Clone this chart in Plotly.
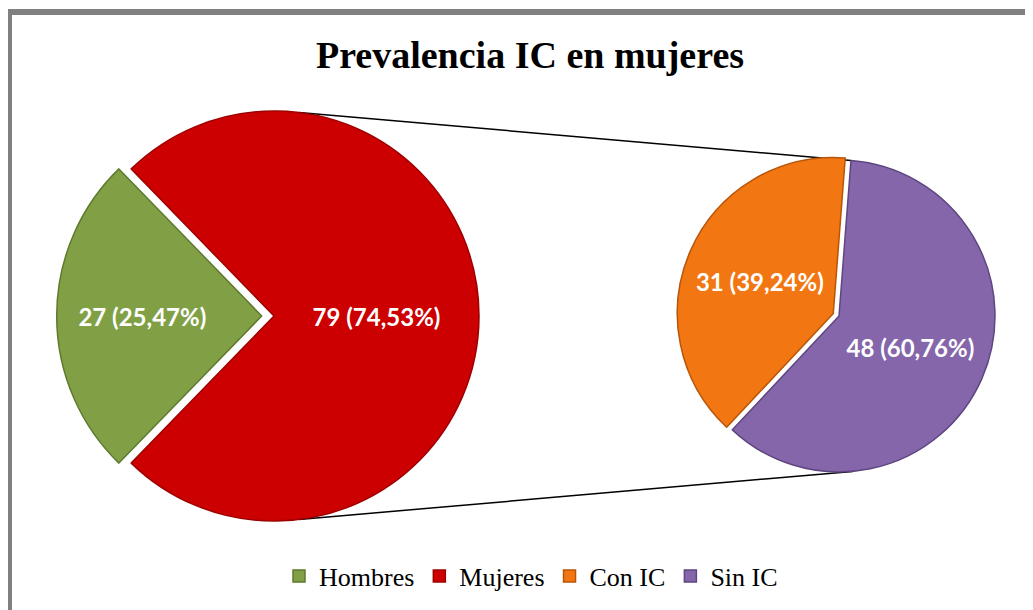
import numpy as np
import plotly.graph_objects as go

W, H = 1033, 610
OFF = 8  # page body margin of the browser, figure starts at (8, 8)

# data
sexo_labels = ['Hombres', 'Mujeres']
sexo_values = [27, 79]
ic_labels = ['Con IC', 'Sin IC']
ic_values = [31, 48]

sexo_colors = ['#81A046', '#CC0000']
ic_colors = ['#F27612', '#8566AB']


def px_x(x):
    return (x - OFF) / W


def px_y(y):
    return 1 - (y - OFF) / H


def pie_domain(cx, cy, r, pull):
    half = r * (1 + pull)
    return dict(x=[px_x(cx - half), px_x(cx + half)],
                y=[px_y(cy + half), px_y(cy - half)])


# pie placement on screen (centre, radius)
c1, r1, p1 = (274, 316), 205, 0.06
c2, r2, p2 = (839, 316), 156, 0.04

dom1 = pie_domain(c1[0], c1[1], r1, p1)
dom2 = pie_domain(c2[0], c2[1], r2, p2)

# plotly counterclockwise: first slice covers [rotation, rotation + share*360]
share_h = 360 * sexo_values[0] / sum(sexo_values)
rot1 = 270 - share_h / 2  # green slice centred on 9 o'clock
top_edge2 = 4.4
rot2 = top_edge2 - 360 * ic_values[0] / sum(ic_values)

label_font = dict(family='Lato', size=24, color='white')

fig = go.Figure()

fig.add_trace(go.Pie(
    labels=sexo_labels,
    values=sexo_values,
    domain=dom1,
    sort=False,
    direction='counterclockwise',
    rotation=rot1,
    pull=[p1, 0],
    marker=dict(colors=sexo_colors, line=dict(color=['#5E7A2E', '#9E0000'], width=1.5)),
    texttemplate='<b>%{value} (%{percent:.2%})</b>',
    textposition='inside',
    insidetextorientation='horizontal',
    textfont=label_font,
    hoverinfo='label+value+percent',
))

fig.add_trace(go.Pie(
    labels=ic_labels,
    values=ic_values,
    domain=dom2,
    sort=False,
    direction='counterclockwise',
    rotation=rot2,
    pull=[p2, 0],
    marker=dict(colors=ic_colors, line=dict(color=['#B85508', '#5E4680'], width=1.5)),
    texttemplate='<b>%{value} (%{percent:.2%})</b>',
    textposition='inside',
    insidetextorientation='horizontal',
    textfont=label_font,
    hoverinfo='label+value+percent',
))


def on_circle(c, r, ang):
    a = np.radians(ang)
    return c[0] + r * np.sin(a), c[1] - r * np.cos(a)


# connector lines big pie -> small pie
pairs = [
    (on_circle(c1, r1, 7), on_circle(c2, r2, top_edge2)),
    (on_circle(c1, r1, 173), on_circle(c2, r2, 175)),
]
shapes = []
for p, q in pairs:
    shapes.append(dict(
        type='line', xref='paper', yref='paper',
        x0=px_x(p[0]), y0=px_y(p[1]), x1=px_x(q[0]), y1=px_y(q[1]),
        line=dict(color='black', width=1.5), layer='below',
    ))

# chart border
shapes.append(dict(
    type='rect', xref='paper', yref='paper',
    x0=1 / W, y0=-0.05, x1=1.05, y1=1 - 4 / H,
    line=dict(color='#808080', width=6),
))

fig.update_layout(
    width=W,
    height=H,
    margin=dict(l=0, r=0, t=0, b=0),
    paper_bgcolor='white',
    separators=',.',
    title=dict(
        text='<b>Prevalencia IC en mujeres</b>',
        x=px_x(530), xanchor='center',
        y=px_y(54.5), yanchor='middle',
        font=dict(family='Liberation Serif', size=38, color='black'),
    ),
    legend=dict(
        orientation='h',
        x=px_x(531), xanchor='center',
        y=px_y(576), yanchor='middle',
        font=dict(family='Liberation Serif', size=26, color='black'),
        itemwidth=30,
        traceorder='normal',
    ),
    shapes=shapes,
)

fig.write_html('out.html')
